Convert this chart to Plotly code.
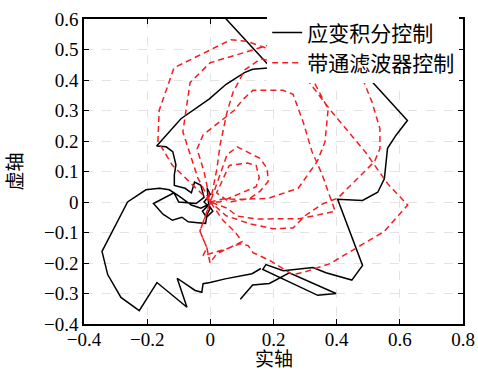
import plotly.graph_objects as go

# Black trajectory: strain integral control
black_x = [0.095, 0.134, 0.187, 0.25, 0.398, 0.34, 0.166, 0.176, 0.231, 0.325, 0.366, 0.448, 0.482,
           0.403, 0.482, 0.53, 0.551, 0.556, 0.561, 0.588, 0.624, 0.5, 0.329, 0.267, -0.012, 0.05,
           0.192, 0.134, 0.108, 0.05, -0.003, -0.093, -0.161, -0.17, -0.14, -0.119, -0.109, -0.114, -0.114,
           -0.08, -0.06, -0.05, -0.03, -0.02, -0.045, -0.1, -0.115, -0.18, -0.15, -0.12, -0.09, -0.07,
           -0.04, -0.015, -0.01, 0.0, -0.02, 0.0, -0.01, -0.005, 0.008, -0.012, -0.025, 0.0, -0.03,
           -0.06, -0.1, -0.13,
           -0.161, -0.204, -0.262, -0.343, -0.325, -0.283, -0.225, -0.169, -0.074, -0.105, -0.048,
           -0.027, -0.023, -0.001, 0.047, 0.132, 0.16]
black_y = [-0.319, -0.272, -0.267, -0.232, -0.3, -0.306, -0.221, -0.205, -0.225, -0.215, -0.232, -0.256, -0.208,
           0.009, 0.005, 0.032, 0.076, 0.135, 0.176, 0.219, 0.267, 0.408, 0.6, 0.67, 0.67, 0.6,
           0.44, 0.435, 0.424, 0.386, 0.338, 0.273, 0.197, 0.184, 0.181, 0.165, 0.122, 0.089, 0.054,
           0.045, 0.03, 0.065, 0.055, 0.015, -0.005, 0.0, 0.03, -0.005, -0.04, -0.06, -0.05, -0.065,
           -0.068, -0.07, -0.04, -0.02, 0.0, 0.025, 0.045, -0.01, -0.03, -0.05, -0.03, -0.005, -0.02,
           -0.01, 0.02, 0.04,
           0.045, 0.04, 0.0, -0.162, -0.238, -0.313, -0.356, -0.264, -0.345, -0.25, -0.29,
           -0.296, -0.268, -0.264, -0.252, -0.235, -0.218]

# Red trajectory: band-pass filter control (petal loops through origin)
red_x = [0.0, -0.06, -0.12, -0.166, -0.162, -0.115, -0.01, 0.065, 0.115, 0.19, 0.26, 0.30, 0.385, 0.49,
         0.563, 0.625, 0.55, 0.465, 0.379, 0.294, 0.26, 0.189, 0.135, 0.12, 0.094, 0.053, 0.009, -0.023,
         -0.011, -0.033, -0.015, 0.0,
         -0.04, -0.087, -0.064, 0.0, 0.085, 0.19, 0.28, 0.38, 0.48, 0.512, 0.537, 0.537, 0.52, 0.457,
         0.404, 0.354, 0.3, 0.262, 0.2, 0.126, 0.05, 0.0,
         0.021, 0.031, 0.053, 0.072, 0.11, 0.16, 0.23, 0.29, 0.332, 0.373, 0.363, 0.338, 0.278, 0.183,
         0.104, 0.04, 0.0,
         -0.02, -0.042, -0.023, 0.04, 0.075, 0.104, 0.135, 0.23, 0.262, 0.294, 0.322, 0.354, 0.395,
         0.33, 0.28, 0.21, 0.148, 0.085, 0.053, 0.0,
         0.03, 0.053, 0.085, 0.126, 0.157, 0.18, 0.183, 0.157, 0.126, 0.06, 0.02, 0.06, 0.117, 0.145,
         0.155, 0.145, 0.1, 0.03, 0.0,
         -0.02, -0.033, -0.011, -0.001, 0.02, 0.06, 0.1, 0.08, 0.04, 0.0]
red_y = [0.0, 0.06, 0.12, 0.2, 0.3, 0.44, 0.494, 0.532, 0.527, 0.5, 0.47, 0.41, 0.295, 0.165,
         0.058, -0.01, -0.097, -0.15, -0.202, -0.231, -0.238, -0.192, -0.166, -0.143, -0.137, -0.153, -0.166, -0.176,
         -0.15, -0.095, -0.045, 0.0,
         0.08, 0.23, 0.392, 0.457, 0.483, 0.516, 0.53, 0.5, 0.41, 0.327, 0.24, 0.175, 0.133, 0.068,
         0.013, -0.007, -0.045, -0.085, -0.088, -0.072, -0.045, 0.0,
         0.11, 0.188, 0.295, 0.36, 0.434, 0.47, 0.45, 0.42, 0.386, 0.305, 0.197, 0.132, 0.045, 0.012,
         0.009, 0.01, 0.0,
         0.1, 0.174, 0.22, 0.27, 0.3, 0.337, 0.366, 0.366, 0.353, 0.262, 0.165, 0.09, -0.03,
         -0.045, -0.055, -0.055, -0.056, -0.046, -0.02, 0.0,
         0.09, 0.155, 0.181, 0.159, 0.143, 0.11, 0.067, 0.035, 0.012, 0.0, 0.03, 0.12, 0.128, 0.12,
         0.08, 0.05, 0.03, 0.0, 0.0,
         -0.06, -0.095, -0.15, -0.2, -0.17, -0.15, -0.13, -0.1, -0.06, 0.0]

x_ticks = [-0.4, -0.2, 0, 0.2, 0.4, 0.6, 0.8]
y_ticks = [-0.4, -0.3, -0.2, -0.1, 0, 0.1, 0.2, 0.3, 0.4, 0.5, 0.6]
x_title = "实轴"
y_title = "虚轴"

fig = go.Figure()
fig.add_trace(go.Scatter(x=black_x, y=black_y, mode="lines", name="应变积分控制",
                         line=dict(color="black", width=1.5)))
fig.add_trace(go.Scatter(x=red_x, y=red_y, mode="lines", name="带通滤波器控制",
                         line=dict(color="#f01e23", width=1.5, dash="6px,4px")))

axis_common = dict(showline=True, linecolor="black", linewidth=1.5, mirror="ticks",
                   ticks="inside", ticklen=5, tickwidth=1.2, tickcolor="black",
                   showgrid=True, gridcolor="#e3e3e3", griddash="dash", gridwidth=1,
                   zeroline=False, automargin=False, ticklabeloverflow="allow",
                   tickfont=dict(family="Liberation Serif", size=19, color="black"))

fig.update_xaxes(range=[-0.4, 0.8], tickvals=x_ticks, ticklabelstandoff=-3, **axis_common)
fig.update_yaxes(range=[-0.4, 0.6], tickvals=y_ticks, **axis_common)

title_font = dict(family="Noto Sans CJK SC", size=19, color="black")
fig.add_annotation(text=x_title, xref="paper", yref="paper", x=0.5, y=-0.110,
                   xanchor="center", yanchor="middle", showarrow=False, borderpad=0, font=title_font)
fig.add_annotation(text=y_title, xref="paper", yref="paper", x=-0.185, y=0.5,
                   xanchor="center", yanchor="middle", showarrow=False, textangle=-90, borderpad=0,
                   font=title_font)

fig.update_layout(
    width=478, height=372,
    margin=dict(l=84, r=15, t=16, b=48),
    plot_bgcolor="white", paper_bgcolor="white",
    showlegend=True,
    legend=dict(x=0.99, y=1.022, xanchor="right", yanchor="top",
                bgcolor="white", borderwidth=0,
                font=dict(family="Noto Sans CJK SC", size=21, color="black"),
                tracegroupgap=0),
)

# remove the default 8px page margin so the figure sits at the window origin
fig.write_html("out.html", config={"displayModeBar": False},
               post_script="document.body.style.margin='0';")
